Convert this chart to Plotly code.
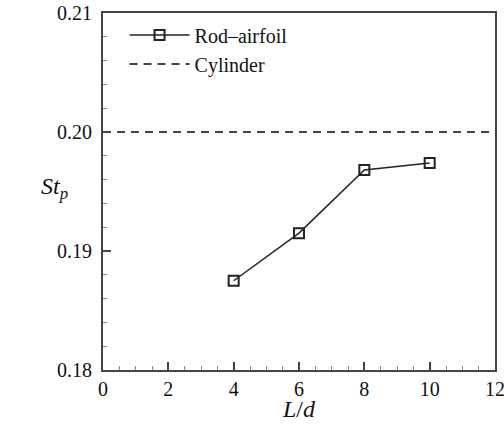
import plotly.graph_objects as go

L_d = [4, 6, 8, 10]
st_rod = [0.1875, 0.1915, 0.1968, 0.1974]
cyl_x = [0, 12]
cyl_st = [0.20, 0.20]
x_ticks = [0, 2, 4, 6, 8, 10, 12]
y_ticks = [0.18, 0.19, 0.20, 0.21]
y_tick_labels = ["0.18", "0.19", "0.20", "0.21"]

FONT = "Times New Roman"
AX = "#444444"

fig = go.Figure()
fig.add_trace(go.Scatter(
    x=L_d, y=st_rod, mode="lines+markers", name="Rod\u2013airfoil",
    line=dict(color="#222222", width=1.5),
    marker=dict(symbol="square-open", size=10, color="#222222", line=dict(width=2)),
))
fig.add_trace(go.Scatter(
    x=cyl_x, y=cyl_st, mode="lines", name="Cylinder",
    line=dict(color=AX, width=2, dash="8px,6px"),
))

fig.update_layout(
    width=504, height=436,
    margin=dict(l=103, r=9, t=13, b=66),
    paper_bgcolor="white", plot_bgcolor="white",
    font=dict(family=FONT, size=20, color="#111111"),
    showlegend=True,
    legend=dict(x=0.055, y=0.993, xanchor="left", yanchor="top",
                bgcolor="rgba(0,0,0,0)", font=dict(size=20, family=FONT),
                itemwidth=60, tracegroupgap=0),
    xaxis=dict(
        range=[0, 12], tickvals=x_ticks, ticktext=[str(v) for v in x_ticks],
        ticks="inside", ticklen=8, tickwidth=2, tickcolor=AX,
        minor=dict(dtick=0.5, ticks="inside", ticklen=4, tickwidth=1, tickcolor="#888888", showgrid=False),
        showline=True, linecolor=AX, linewidth=2, mirror=True,
        showgrid=False, zeroline=False, automargin=False,
        ticklabeloverflow="allow",
        tickfont=dict(size=20, family=FONT),
    ),
    yaxis=dict(
        range=[0.18, 0.21], tickvals=y_ticks, ticktext=y_tick_labels,
        ticks="inside", ticklen=8, tickwidth=2, tickcolor=AX,
        minor=dict(dtick=0.002, ticks="inside", ticklen=4, tickwidth=1, tickcolor="#888888", showgrid=False),
        showline=True, linecolor=AX, linewidth=2, mirror=True,
        showgrid=False, zeroline=False, automargin=False,
        ticklabelstandoff=5, ticklabeloverflow="allow",
        tickfont=dict(size=20, family=FONT),
    ),
    annotations=[
        dict(
            text="<i>St<sub>p</sub></i>", x=0, y=0.51, xref="paper", yref="paper",
            xanchor="right", yanchor="middle", xshift=-33, showarrow=False,
            font=dict(size=24, family=FONT),
        ),
        dict(
            text="<i>L</i>/<i>d</i>", x=0.5, y=0, xref="paper", yref="paper",
            xanchor="center", yanchor="middle", yshift=-39, showarrow=False,
            font=dict(size=24, family=FONT),
        ),
    ],
)

fig.write_html("out.html")
